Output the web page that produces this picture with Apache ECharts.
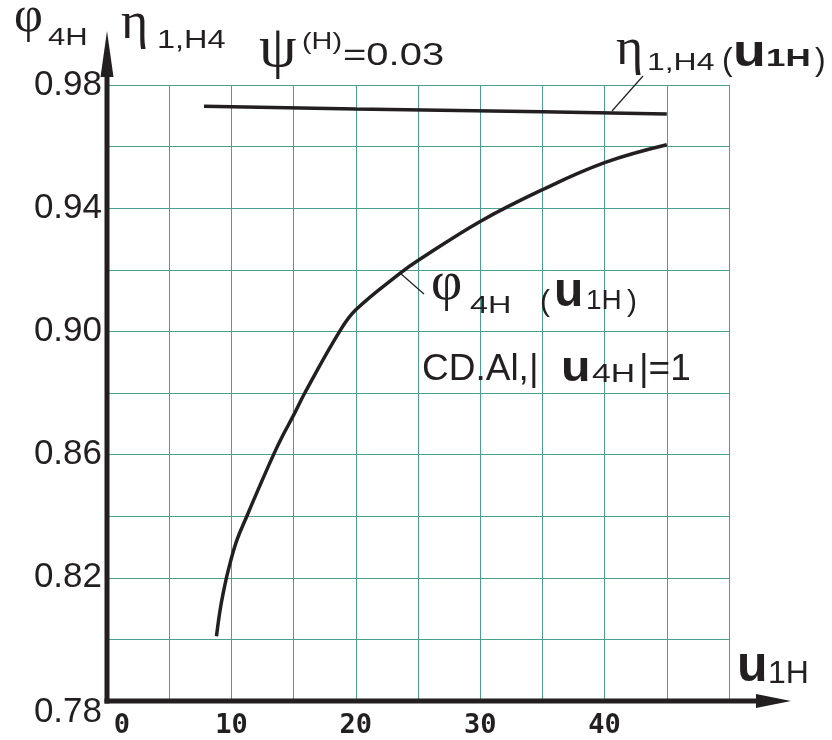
<!DOCTYPE html>
<html>
<head>
<meta charset="utf-8">
<script src="https://cdn.jsdelivr.net/npm/echarts@6/dist/echarts.min.js"></script>
<style>
    html, body { margin: 0; padding: 0; background: #fff; }
    #chart { width: 832px; height: 740px; }
</style>
</head>
<body>
<div id="chart"></div>
<script>
// values
const uEta = [7.8, 20, 35, 45]
const etaValues = [0.9731, 0.9722, 0.9713, 0.9706]
const uPhi = [8.8, 9.07, 9.34, 9.75, 10.42, 11.24, 12.03, 13.39, 14.17, 15.0, 15.9, 18.7, 20, 23.6, 25, 30, 35, 40, 45]
const phiValues = [0.801, 0.809, 0.815, 0.8225, 0.832, 0.840, 0.8475, 0.860, 0.8665, 0.8728, 0.880, 0.900, 0.907, 0.919, 0.923, 0.9357, 0.946, 0.9548, 0.9606]
const xTickLabels = [0, 10, 20, 30, 40]
const yTickLabels = [0.78, 0.82, 0.86, 0.90, 0.94, 0.98]

const ink = '#231f20'
const gridColor = '#4a9f8f'
const sans = "'Liberation Sans', Arial, sans-serif"
const serif = "'Liberation Serif', 'DejaVu Serif', serif"
const mono = "'DejaVu Sans Mono', monospace"

// plot box in pixels
const L = 107, R = 103, T = 85, B = 39
const x0 = L, y0 = 740 - B

// text piece, placed by its baseline, optionally stretched sideways
const txt = (s, x, base, size, family, weight, sx) => ({
    type: 'text',
    x: x,
    y: base - 0.35 * size,
    scaleX: sx || 1,
    z: 20,
    style: {
        text: s,
        fill: ink,
        font: (weight || 'normal') + ' ' + size + 'px ' + family,
        textAlign: 'left',
        textVerticalAlign: 'middle',
        align: 'left',
        verticalAlign: 'middle'
    }
})

const seg = (a, b, w) => ({
    type: 'line',
    z: 20,
    shape: { x1: a[0], y1: a[1], x2: b[0], y2: b[1] },
    style: { stroke: ink, lineWidth: w }
})

const tri = (pts) => ({
    type: 'polygon',
    z: 20,
    shape: { points: pts },
    style: { fill: ink }
})

const graphics = [
    // axes with arrows
    seg([x0, y0 + 2.5], [x0, 60], 5),
    tri([[x0, 31], [x0 - 6.5, 77], [x0 + 6.5, 77]]),
    seg([x0 - 2.5, y0], [762, y0], 5),
    tri([[791, y0], [756, y0 - 7], [756, y0 + 7]]),

    // leader lines
    seg([612, 111], [643, 76], 1.2),
    seg([400, 273], [424, 294], 1.2),

    // φ4H  η1,H4 (axis titles)
    txt('φ', 14, 35, 50, serif),
    txt('4H', 48, 47, 23, sans, 'normal', 1.35),
    txt('η', 121, 43, 52, serif),
    txt('1,H4', 157, 50, 25, sans, 'normal', 1.3),

    // ψ(H)=0.03
    txt('ψ', 259, 71, 60, serif),
    txt('(H)', 302, 51, 24, sans, 'normal', 1.2),
    txt('=0.03', 343, 67, 32, sans, 'normal', 1.25),

    // η1,H4 (u1H)
    txt('η', 616, 69, 52, serif),
    txt('1,H4', 647, 72, 24, sans, 'normal', 1.33),
    txt('(', 722, 72, 32, sans),
    txt('u', 733, 69, 44, sans, 'bold', 1.22),
    txt('1H', 766, 68, 23, sans, 'bold', 1.52),
    txt(')', 815, 72, 32, sans),

    // φ4H (u1H)
    txt('φ', 431, 304, 54, serif),
    txt('4H', 470, 315, 24, sans, 'normal', 1.35),
    txt('(', 540, 313, 30, sans),
    txt('u', 554, 310, 48, sans, 'bold'),
    txt('1H', 586, 311, 28, sans),
    txt(')', 627, 313, 30, sans),

    // CD.Al,|u4H|=1
    txt('CD.Al,|', 422, 383, 37, sans),
    txt('u', 561, 384, 42, sans, 'bold', 1.15),
    txt('4H', 592, 384, 25, sans, 'normal', 1.35),
    txt('|=1', 639, 383, 37, sans),

    // u1H (x axis title)
    txt('u', 737, 685, 50, sans, 'bold'),
    txt('1H', 768, 685, 32, sans)
]

const chart = echarts.init(document.getElementById('chart'), null, { renderer: 'canvas' })

chart.setOption({
    backgroundColor: '#ffffff',
    animation: false,
    grid: { left: L, right: R, top: T, bottom: B, containLabel: false, outerBoundsMode: 'none' },
    xAxis: {
        type: 'value',
        min: 0,
        max: 50,
        interval: 5,
        axisLine: { show: false },
        axisTick: { show: false },
        splitLine: { show: true, lineStyle: { color: gridColor, width: 1 } },
        axisLabel: {
            show: true,
            margin: 11,
            color: ink,
            fontFamily: mono,
            fontWeight: 'bold',
            fontSize: 27,
            showMinLabel: true,
            showMaxLabel: true,
            formatter: (v) => {
                if (xTickLabels.indexOf(v) < 0) return ''
                return v === 0 ? '{z|0}' : String(v)
            },
            rich: {
                z: { padding: [0, 0, 0, 30], fontFamily: mono, fontWeight: 'bold', fontSize: 27, color: ink }
            }
        }
    },
    yAxis: {
        type: 'value',
        min: 0.78,
        max: 0.98,
        interval: 0.02,
        axisLine: { show: false },
        axisTick: { show: false },
        splitLine: { show: true, lineStyle: { color: gridColor, width: 1 } },
        axisLabel: {
            show: true,
            margin: 5,
            color: ink,
            fontFamily: sans,
            fontSize: 35,
            showMinLabel: true,
            showMaxLabel: true,
            formatter: (v) => {
                const hit = yTickLabels.find(t => Math.abs(t - v) < 1e-6)
                if (hit === undefined) return ''
                return hit === 0.78 ? '{low|0.78}' : hit.toFixed(2)
            },
            rich: {
                low: { padding: [22, 0, 0, 0], fontFamily: sans, fontSize: 35, color: ink }
            }
        }
    },
    series: [
        {
            name: 'eta',
            type: 'line',
            data: uEta.map((u, i) => [u, etaValues[i]]),
            showSymbol: false,
            symbol: 'none',
            smooth: false,
            lineStyle: { color: ink, width: 3.5 },
            z: 5
        },
        {
            name: 'phi',
            type: 'line',
            data: uPhi.map((u, i) => [u, phiValues[i]]),
            showSymbol: false,
            symbol: 'none',
            smooth: 0.4,
            lineStyle: { color: ink, width: 3.5 },
            z: 5
        }
    ],
    graphic: graphics
})
</script>
</body>
</html>
